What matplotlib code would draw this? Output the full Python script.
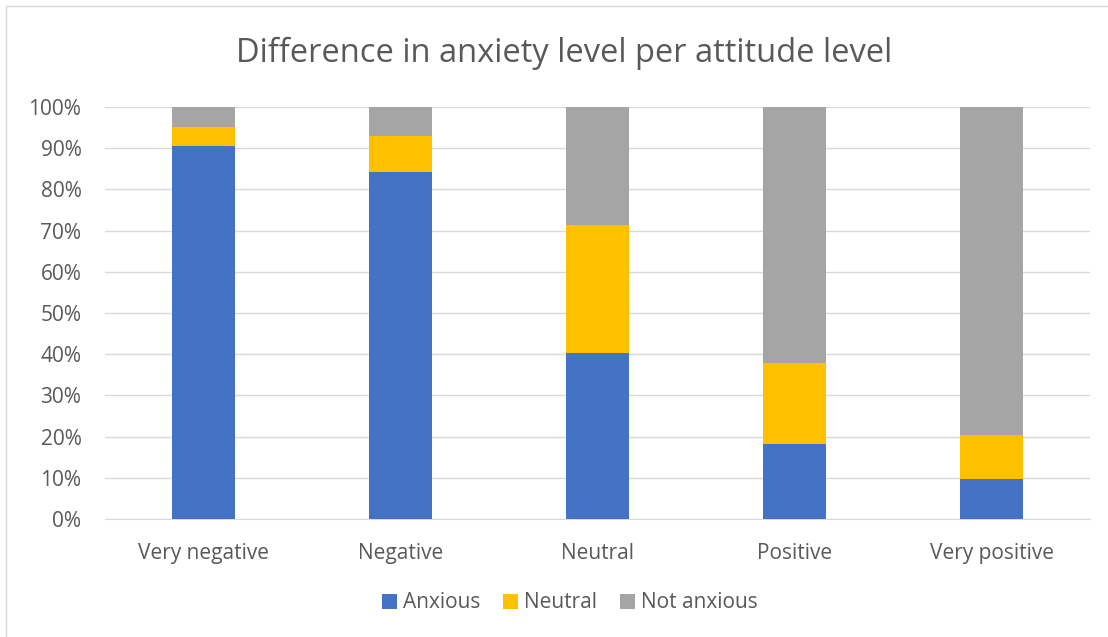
import matplotlib.pyplot as plt
from matplotlib.patches import Rectangle
from matplotlib.ticker import PercentFormatter

# Categories and stacked shares (percent)
categories = ["Very negative", "Negative", "Neutral", "Positive", "Very positive"]
anxious = [90.6, 84.3, 40.4, 18.3, 9.8]
neutral = [4.5, 8.7, 30.9, 19.6, 10.5]
not_anxious = [4.9, 7.0, 28.7, 62.1, 79.7]

colors = ["#4472C4", "#FFC000", "#A5A5A5"]
text_color = "#595959"

plt.rcParams["font.family"] = ["Open Sans", "DejaVu Sans"]

fig = plt.figure(figsize=(11.08, 6.37), dpi=100)
ax = fig.add_axes([105 / 1108, 1 - 519 / 637, 985 / 1108, 412 / 637])

# chart border
fig.patches.append(Rectangle((6 / 1108, -0.01), 1.02, 1 - 6 / 637 + 0.01,
                             transform=fig.transFigure, fill=False,
                             edgecolor="#D9D9D9", linewidth=1))

x = range(len(categories))
width = 0.315
bottom2 = [a + b for a, b in zip(anxious, neutral)]
ax.bar(x, anxious, width, color=colors[0], label="Anxious", zorder=3)
ax.bar(x, neutral, width, bottom=anxious, color=colors[1], label="Neutral", zorder=3)
ax.bar(x, not_anxious, width, bottom=bottom2, color=colors[2], label="Not anxious", zorder=3)

ax.set_xlim(-0.5, len(categories) - 0.5)
ax.set_ylim(0, 100)
ax.set_yticks(range(0, 101, 10))
ax.yaxis.set_major_formatter(PercentFormatter(decimals=0))
ax.set_xticks(list(x))
ax.set_xticklabels(categories)
ax.grid(axis="y", color="#D9D9D9", linewidth=1, zorder=0)
for s in ["top", "right", "left"]:
    ax.spines[s].set_visible(False)
ax.spines["bottom"].set_color("#D9D9D9")
ax.tick_params(axis="both", length=0, labelsize=15, colors=text_color)
ax.tick_params(axis="x", pad=17)
ax.tick_params(axis="y", pad=17)

fig.text(564 / 1108, 1 - 53 / 637, "Difference in anxiety level per attitude level",
         ha="center", va="center", fontsize=23.5, color=text_color)

leg = fig.legend(loc="center", bbox_to_anchor=(570 / 1108, 1 - 603 / 637), ncol=3,
                 frameon=False, fontsize=15, handlelength=0.7, handleheight=0.7,
                 handletextpad=0.3, columnspacing=1.1)
for t in leg.get_texts():
    t.set_color(text_color)

fig.savefig("out.png", dpi=100)
